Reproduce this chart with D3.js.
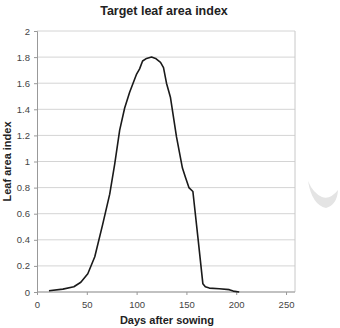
<!DOCTYPE html>
<html>
<head>
<meta charset="utf-8">
<script src="https://cdn.jsdelivr.net/npm/d3@7"></script>
<style>
  body { margin: 0; background: #fff; }
  svg { display: block; font-family: "Liberation Sans", Arial, sans-serif; }
  .tick text { fill: #444; font-size: 9.5px; }
</style>
</head>
<body>
<svg width="340" height="328"></svg>
<script>
const days = [12, 26, 37, 44, 51, 58, 66, 73, 78, 83, 88, 93, 100, 103, 106, 110, 115, 119, 124, 127,
              130, 134, 137, 140, 146, 149, 152.5, 156.5, 161.5, 166.5, 169, 173, 183, 193, 197, 203];
const lai = [0.01, 0.022, 0.04, 0.075, 0.14, 0.27, 0.52, 0.75, 0.98, 1.24, 1.41, 1.53, 1.67, 1.71, 1.77, 1.79, 1.80, 1.79, 1.76, 1.72,
             1.60, 1.49, 1.34, 1.19, 0.95, 0.88, 0.80, 0.77, 0.42, 0.064, 0.04, 0.03, 0.025, 0.018, 0.007, 0];
const xTicks = [0, 50, 100, 150, 200, 250];
const yTicks = [0, 0.2, 0.4, 0.6, 0.8, 1, 1.2, 1.4, 1.6, 1.8, 2];

const svg = d3.select('svg');
const margin = { top: 31, right: 45, bottom: 36, left: 37 };
const width = 340, height = 328;
const innerWidth = width - margin.left - margin.right;
const innerHeight = height - margin.top - margin.bottom;

const xScale = d3.scaleLinear().domain([0, 259]).range([0, innerWidth]);
const yScale = d3.scaleLinear().domain([0, 2]).range([innerHeight, 0]);

const g = svg.append('g')
    .attr('transform', `translate(${margin.left},${margin.top})`);

// gridlines
g.append('g')
  .selectAll('line').data(yTicks).enter().append('line')
    .attr('x1', 0).attr('x2', innerWidth)
    .attr('y1', d => yScale(d)).attr('y2', d => yScale(d))
    .attr('stroke', '#d4d4d4').attr('stroke-width', 1);

// right border
g.append('line')
    .attr('x1', innerWidth).attr('x2', innerWidth)
    .attr('y1', 0).attr('y2', innerHeight)
    .attr('stroke', '#c8c8c8');

const yAxis = d3.axisLeft(yScale).tickValues(yTicks).tickSize(3).tickPadding(4)
    .tickFormat(d3.format('~g'));
const yAxisG = g.append('g').call(yAxis);
yAxisG.selectAll('.domain, line').attr('stroke', '#999');

const xAxis = d3.axisBottom(xScale).tickValues(xTicks).tickSize(3).tickPadding(6);
const xAxisG = g.append('g')
    .attr('transform', `translate(0,${innerHeight})`)
    .call(xAxis);
xAxisG.select('.domain').attr('d', `M0,0H${innerWidth}`).attr('stroke', '#999');
xAxisG.selectAll('line').attr('stroke', '#999');

// curve
const line = d3.line()
    .x((d, i) => xScale(days[i]))
    .y(d => yScale(d));
g.append('path')
    .datum(lai)
    .attr('d', line)
    .attr('fill', 'none')
    .attr('stroke', '#1a1a1a')
    .attr('stroke-width', 1.6)
    .attr('stroke-linejoin', 'round');

// titles
svg.append('text')
    .attr('x', 164).attr('y', 15)
    .attr('text-anchor', 'middle')
    .attr('font-weight', 'bold').attr('font-size', 12.5)
    .attr('fill', '#222')
    .text('Target leaf area index');

svg.append('text')
    .attr('x', 167).attr('y', 324)
    .attr('text-anchor', 'middle')
    .attr('font-weight', 'bold').attr('font-size', 11)
    .attr('fill', '#222')
    .text('Days after sowing');

svg.append('text')
    .attr('transform', `translate(11,${margin.top + innerHeight / 2}) rotate(-90)`)
    .attr('text-anchor', 'middle')
    .attr('font-weight', 'bold').attr('font-size', 11)
    .attr('fill', '#222')
    .text('Leaf area index');

// faint crescent mark at right edge
svg.append('path')
    .attr('d', 'M308,181 Q312,205 326,208 Q337,205 338,190 Q330,200 322,197 Q313,193 308,181 Z')
    .attr('fill', '#e4e4e4');
</script>
</body>
</html>
